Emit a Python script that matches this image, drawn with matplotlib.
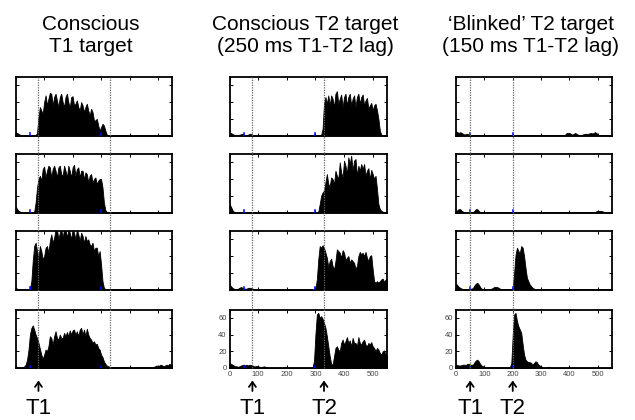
import numpy as np
import matplotlib
matplotlib.use("Agg")
import matplotlib.pyplot as plt
from matplotlib.lines import Line2D
from matplotlib.transforms import blended_transform_factory

plt.rcParams['font.family'] = ['Liberation Sans', 'DejaVu Sans']

# time axis in ms (one sample every 5 ms, 0..550)
t_ms = np.arange(0, 551, 5)

# column 1 : conscious T1 target
c1_r1 = [4, 3, 2, 1, 0.5, 0, 0, 0, 0, 0,
         0, 0, 0, 0, 0.5, 3, 22, 34, 30, 26,
         40, 48, 36, 44, 51, 50, 36, 46, 50, 42,
         34, 46, 50, 40, 34, 46, 50, 40, 33, 46,
         47, 36, 38, 42, 34, 30, 40, 36, 28, 34,
         38, 30, 24, 32, 28, 18, 18, 20, 12, 6,
         10, 14, 12, 6, 1, 0, 0, 0, 0, 0,
         0, 0, 0, 0, 0, 0, 0, 0, 0, 0,
         0, 0, 0, 0, 0, 0, 0, 0, 0, 0,
         0, 0, 0, 0, 0, 0, 0, 0, 0, 0,
         0, 0, 0, 0, 0, 0, 0, 0, 0, 0,
         0]
c1_r2 = [7, 4, 2, 1, 0.5, 0, 0, 0, 0, 0,
         0, 0, 0, 1, 12, 30, 40, 44, 38, 52,
         55, 42, 50, 56, 54, 42, 52, 56, 50, 42,
         54, 56, 46, 44, 56, 50, 42, 56, 50, 42,
         54, 57, 44, 52, 54, 42, 50, 50, 40, 48,
         46, 36, 44, 46, 36, 40, 42, 34, 38, 40,
         40, 30, 12, 3, 0.5, 0, 0, 0, 0, 0,
         0, 0, 0, 0, 0, 0, 0, 0, 0, 0,
         0, 0, 0, 0, 0, 0, 0, 0, 0, 0,
         0, 0, 0, 0, 0, 0, 0, 0, 0, 0,
         0, 0, 0, 0, 0, 0, 0, 0, 0, 0,
         0]
c1_r3 = [2, 1, 0.5, 0.5, 0.5, 0.5, 0.5, 0.5, 0.5, 0.5,
         1, 10, 35, 52, 56, 46, 38, 52, 46, 36,
         40, 50, 52, 44, 58, 66, 56, 62, 72, 72,
         60, 68, 72, 62, 72, 72, 62, 72, 68, 60,
         72, 68, 60, 72, 66, 58, 68, 64, 56, 64,
         58, 60, 54, 52, 56, 46, 50, 50, 40, 46,
         30, 10, 2, 0.5, 0, 0, 0, 0, 0, 0,
         0, 0, 0, 0, 0, 0, 0, 0, 0, 0,
         0, 0, 0, 0, 0, 0, 0, 0, 0, 0,
         0, 0, 0, 0, 0, 0, 0, 0, 0, 0,
         0, 0, 0, 0, 0, 0, 0, 0, 0, 0,
         0]
c1_r4 = [2, 1, 1, 0.5, 0.5, 1, 2, 4, 10, 22,
         40, 48, 51, 46, 40, 36, 30, 23, 16, 11,
         16, 22, 20, 26, 38, 36, 28, 38, 44, 36,
         34, 40, 36, 36, 42, 38, 43, 38, 45, 40,
         45, 46, 40, 44, 38, 46, 48, 40, 46, 38,
         47, 40, 36, 34, 30, 32, 28, 29, 24, 22,
         16, 13, 8, 5, 3, 2, 1.5, 1, 1, 1,
         1, 1, 1, 1, 1, 1, 1, 1, 1, 1,
         1, 1, 1, 1, 1, 1, 1, 1, 1, 1,
         1, 1, 1, 1, 1, 1, 1, 1.5, 2, 3,
         2, 3, 4, 3, 2, 3, 4, 3, 5, 4,
         3]

# column 2 : conscious T2 target (250 ms lag)
c2_r1 = [4, 3, 2, 1, 0.5, 0.5, 0.5, 1, 1.5, 2,
         1, 0.5, 0.5, 1, 2, 2, 1, 0.5, 0, 0,
         0, 0, 0, 0, 0, 0, 0, 0, 0, 0,
         0, 0, 0, 0, 0, 0, 0, 0, 0, 0,
         0, 0, 0, 0, 0, 0, 0, 0, 0, 0,
         0, 0, 0, 0, 0, 0, 0, 0, 0, 0,
         0, 0, 0, 0.3, 0.5, 8, 38, 46, 38, 48,
         36, 48, 44, 34, 50, 53, 38, 44, 49, 34,
         46, 50, 36, 46, 50, 36, 44, 48, 34, 46,
         50, 38, 46, 49, 36, 42, 45, 32, 36, 39,
         30, 36, 38, 30, 20, 6, 1, 0.5, 0.3, 0.3,
         0.3]
c2_r2 = [10, 7, 3, 1, 0.5, 0, 0, 0, 0, 0,
         0, 0, 0, 0, 0, 0, 0, 0, 0, 0,
         0, 0, 0, 0, 0, 0, 0, 0, 0, 0,
         0, 0, 0, 0, 0, 0, 0, 0, 0, 0,
         0, 0, 0, 0, 0, 0, 0, 0, 0, 0,
         0, 0, 0, 0, 0, 0, 0, 0, 0, 0,
         0, 0, 1, 10, 20, 24, 26, 36, 46, 34,
         32, 42, 40, 34, 50, 44, 40, 60, 48, 42,
         62, 56, 46, 66, 58, 68, 50, 62, 64, 44,
         56, 50, 58, 52, 58, 44, 50, 53, 40, 51,
         46, 40, 44, 28, 10, 4, 2, 1, 0.5, 0.3,
         0.3]
c2_r3 = [6, 4, 2, 1, 0.5, 0.5, 1, 2, 3, 2,
         1, 1, 1, 2, 2, 2, 1, 0.5, 0, 0,
         0, 0, 0, 0, 0, 0, 0, 0, 0, 0,
         0, 0, 0, 0, 0, 0, 0, 0, 0, 0,
         0, 0, 0, 0, 0, 0, 0, 0, 0, 0,
         0, 0, 0, 0, 0, 0, 0, 0, 0, 0,
         1, 12, 36, 52, 50, 53, 50, 44, 38, 27,
         34, 37, 28, 24, 34, 48, 46, 44, 38, 47,
         44, 35, 38, 40, 32, 36, 34, 32, 25, 28,
         40, 45, 42, 44, 40, 45, 38, 34, 40, 41,
         24, 10, 8, 10, 8, 10, 12, 13, 9, 12,
         13]
c2_r4 = [6, 5, 4, 3, 2, 2, 1.5, 2, 3, 3.5,
         4, 3, 4, 3, 4, 3.5, 3, 2, 2, 2.5,
         2, 1.5, 1, 1.5, 2, 1.5, 1, 0.5, 0.5, 0.5,
         0.5, 0.5, 0.5, 0.5, 0.5, 0.5, 0.5, 0.5, 1, 1.5,
         1, 0.5, 0.5, 0.5, 0.5, 0.5, 0.5, 0.5, 0.5, 0.5,
         0.5, 0.5, 0.5, 0.5, 0.5, 0.5, 0.5, 0.5, 1, 8,
         40, 64, 66, 60, 62, 59, 54, 48, 38, 26,
         14, 5, 4, 14, 24, 26, 22, 20, 30, 34,
         28, 32, 37, 30, 33, 26, 36, 30, 30, 26,
         37, 30, 28, 32, 34, 28, 26, 30, 28, 31,
         26, 24, 20, 24, 22, 18, 16, 20, 21, 16,
         15]

# column 3 : 'blinked' T2 target (150 ms lag)
c3_r1 = [5, 4, 3, 4, 3, 2, 1, 2, 2, 1,
         0.5, 0.3, 0.3, 0.3, 0.3, 0.3, 0.3, 0.3, 0.3, 0.3,
         0.3, 0.3, 0.3, 0.3, 0.3, 0.3, 0.3, 0.3, 0.3, 0.3,
         0.3, 0.3, 0.3, 0.3, 0.3, 0.3, 0.3, 0.3, 0.3, 0.3,
         0.3, 0.3, 0.3, 0.3, 0.3, 0.3, 0.3, 0.3, 0.3, 0.3,
         0.3, 0.3, 0.3, 0.3, 0.3, 0.3, 0.3, 0.3, 0.3, 0.3,
         0.3, 0.3, 0.3, 0.3, 0.3, 0.3, 0.3, 0.3, 0.3, 0.3,
         0.3, 0.3, 0.3, 0.3, 0.3, 0.3, 0.3, 1, 3, 3,
         3, 2, 1, 2, 3, 2, 1, 0.5, 0.5, 1,
         1.5, 2, 2, 2, 2.5, 3, 2.5, 3, 4, 3,
         1, 0.5, 0.5, 0.5, 0.5, 0.5, 0.5, 0.5, 0.5, 0.5,
         0.5]
c3_r2 = [1, 3, 4, 4, 2, 1, 0.5, 0.5, 0.5, 0.5,
         0.5, 0.5, 0.5, 2, 4, 4, 2, 0.5, 0.3, 0.3,
         0.3, 0.3, 0.3, 0.3, 0.3, 0.3, 0.3, 0.3, 0.3, 0.3,
         0.3, 0.3, 0.3, 0.3, 0.3, 0.3, 0.3, 0.3, 0.3, 0.3,
         0.3, 0.3, 0.3, 0.3, 0.3, 0.3, 0.3, 0.3, 0.3, 0.3,
         0.3, 0.3, 0.3, 0.3, 0.3, 0.3, 0.3, 0.3, 0.3, 0.3,
         0.3, 0.3, 0.3, 0.3, 0.3, 0.3, 0.3, 0.3, 0.3, 0.3,
         0.3, 0.3, 0.3, 0.3, 0.3, 0.3, 0.3, 0.3, 0.3, 0.3,
         0.3, 0.3, 0.3, 0.3, 0.3, 0.3, 0.3, 0.3, 0.3, 0.3,
         0.3, 0.3, 0.3, 0.3, 0.3, 0.3, 0.3, 0.3, 0.5, 1.5,
         2, 2, 2, 1.5, 1, 0.5, 0.3, 0.3, 0.3, 0.3,
         0.3]
c3_r3 = [7, 5, 3, 2, 1, 0.5, 0.5, 0.5, 0.5, 0.5,
         1, 1, 2, 5, 7, 8, 6, 3, 1, 0.5,
         0.5, 0.5, 0.5, 0.5, 0.5, 1, 2, 3, 3, 3,
         2, 1, 0.5, 0.5, 0.5, 0.5, 0.5, 0.5, 0.5, 0.5,
         2, 20, 42, 50, 46, 44, 52, 50, 40, 26,
         14, 10, 6, 4, 2, 1, 0.5, 0.5, 0.5, 0.5,
         0.3, 0.3, 0.3, 0.3, 0.3, 0.3, 0.3, 0.3, 0.3, 0.3,
         0.3, 0.3, 0.3, 0.3, 0.3, 0.3, 0.3, 0.3, 0.3, 0.3,
         0.3, 0.3, 0.3, 0.3, 0.3, 0.3, 0.3, 0.3, 0.3, 0.3,
         0.3, 0.3, 0.3, 0.3, 0.3, 0.3, 0.3, 0.3, 0.3, 0.3,
         0.3, 0.3, 0.3, 0.3, 0.3, 0.3, 0.3, 0.3, 0.3, 0.3,
         0.3]
c3_r4 = [4, 3.5, 3, 3, 3.5, 4, 4, 3.5, 5, 5,
         4, 4, 4, 7, 9, 10, 8, 5, 3, 2,
         1.5, 1, 0.8, 0.8, 0.8, 0.8, 0.8, 0.8, 0.8, 0.8,
         0.8, 0.8, 0.8, 0.8, 0.8, 0.8, 0.8, 0.8, 1, 6,
         40, 64, 66, 56, 50, 46, 42, 28, 16, 10,
         8, 7, 7, 6, 4, 6, 8, 7, 4, 3,
         2, 1, 0.5, 0.5, 1, 1.5, 1, 0.5, 0.5, 0.5,
         0.5, 0.5, 0.5, 0.5, 0.5, 0.5, 0.5, 0.5, 0.5, 0.5,
         0.5, 0.5, 0.5, 0.5, 0.5, 0.5, 0.5, 0.5, 0.5, 0.5,
         0.5, 0.5, 0.5, 0.5, 0.5, 0.5, 0.5, 0.5, 0.5, 0.5,
         0.5, 0.5, 0.5, 0.5, 0.5, 0.5, 0.5, 0.5, 0.5, 0.5,
         0.5]

columns = [[c1_r1, c1_r2, c1_r3, c1_r4],
           [c2_r1, c2_r2, c2_r3, c2_r4],
           [c3_r1, c3_r2, c3_r3, c3_r4]]

titles = [("Conscious", "T1 target"),
          ("Conscious T2 target", "(250 ms T1-T2 lag)"),
          ("\u2018Blinked\u2019 T2 target", "(150 ms T1-T2 lag)")]

# dotted reference lines (ms), blue onset markers (ms), arrow labels
ref_lines = [[80, 330], [80, 330], [50, 200]]
onsets = [[50, 300], [50, 300], [50, 200]]
arrow_labels = [[("T1", 80)], [("T1", 80), ("T2", 330)], [("T1", 50), ("T2", 200)]]

W, H = 635, 420
fig = plt.figure(figsize=(W / 100, H / 100), dpi=100)

col_left = [15.7, 229.5, 456]
col_width = [156.5, 157.5, 156]
row_top = [77, 154, 231, 309.5]
row_h = 58.5

for c in range(3):
    axes = []
    for r in range(4):
        ax = fig.add_axes([col_left[c] / W, 1 - (row_top[r] + row_h) / H,
                           col_width[c] / W, row_h / H])
        ax.fill_between(t_ms, columns[c][r], 0, color='black', lw=0.6,
                        edgecolor='black')
        for on in onsets[c]:
            ax.plot([on, on], [0, 2.5], color='#0000ff', lw=1.1, zorder=5)
        ax.set_xlim(0, 550)
        ax.set_ylim(0, 70)
        ax.set_xticks([0, 100, 200, 300, 400, 500])
        ax.set_yticks([0, 20, 40, 60])
        ax.tick_params(direction='in', top=True, right=True, length=2.5,
                       width=0.7, labelsize=5.5, labelcolor='#444444', pad=2)
        for s in ax.spines.values():
            s.set_linewidth(1.3)
        if r < 3 or c == 0:
            ax.set_xticklabels([])
            ax.set_yticklabels([])
        axes.append(ax)

    # dotted lines running through all four panels
    tr = blended_transform_factory(axes[-1].transData, fig.transFigure)
    y_top = 1 - row_top[0] / H
    y_bot = 1 - (row_top[3] + row_h) / H
    for xv in ref_lines[c]:
        fig.add_artist(Line2D([xv, xv], [y_bot, y_top], transform=tr,
                              color='#666666', lw=0.9, ls=(0, (1, 1)), zorder=10))

    # titles
    xc = (col_left[c] + col_width[c] / 2 - 3) / W
    fig.text(xc, 1 - 30.5 / H, titles[c][0], ha='center', va='baseline', fontsize=15)
    fig.text(xc, 1 - 52 / H, titles[c][1], ha='center', va='baseline', fontsize=15)

    # arrows with T1 / T2 labels
    for lab, xv in arrow_labels[c]:
        xf = (col_left[c] + xv / 550 * col_width[c]) / W
        fig.add_artist(matplotlib.patches.FancyArrowPatch(
            (xf, 1 - 391 / H), (xf, 1 - 380.5 / H), transform=fig.transFigure,
            arrowstyle='->,head_length=3.5,head_width=2.5', lw=1.3,
            color='black', shrinkA=0, shrinkB=0))
        fig.text(xf, 1 - 413.5 / H, lab, ha='center', va='baseline', fontsize=16)

fig.savefig('out.png', dpi=100)
